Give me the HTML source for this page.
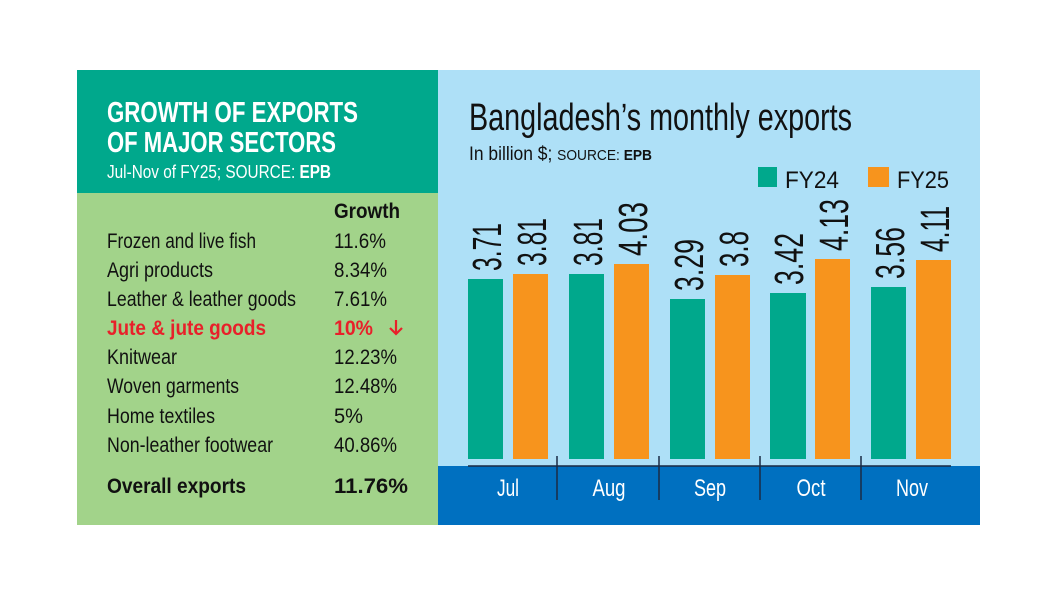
<!DOCTYPE html>
<html><head><meta charset="utf-8"><style>
html,body{margin:0;padding:0;background:#fff;}
svg{display:block;font-family:"Liberation Sans",sans-serif;}
</style></head><body>
<svg width="1058" height="596" viewBox="0 0 1058 596" xmlns="http://www.w3.org/2000/svg">
<rect width="1058" height="596" fill="#fff"/>
<rect x="77" y="70" width="361" height="123" fill="#00a88c"/>
<rect x="77" y="193" width="361" height="332" fill="#a2d38a"/>
<rect x="438" y="70" width="542" height="455" fill="#aee0f7"/>
<rect x="438" y="466" width="542" height="59" fill="#0070c0"/>

<g fill="#fff" font-weight="bold">
<text x="107" y="122" font-size="29" textLength="251" lengthAdjust="spacingAndGlyphs">GROWTH OF EXPORTS</text>
<text x="107" y="152" font-size="29" textLength="229" lengthAdjust="spacingAndGlyphs">OF MAJOR SECTORS</text>
</g>
<text x="107" y="178" font-size="18" fill="#fff" textLength="224" lengthAdjust="spacingAndGlyphs">Jul-Nov of FY25; SOURCE: <tspan font-weight="bold">EPB</tspan></text>

<g font-size="21" fill="#111">
<text x="334" y="218" font-weight="bold" textLength="66" lengthAdjust="spacingAndGlyphs">Growth</text>
<text x="107" y="248" textLength="149" lengthAdjust="spacingAndGlyphs">Frozen and live fish</text>
<text x="334" y="248" textLength="52" lengthAdjust="spacingAndGlyphs">11.6%</text>
<text x="107" y="277" textLength="106" lengthAdjust="spacingAndGlyphs">Agri products</text>
<text x="334" y="277" textLength="53" lengthAdjust="spacingAndGlyphs">8.34%</text>
<text x="107" y="306" textLength="189" lengthAdjust="spacingAndGlyphs">Leather &amp; leather goods</text>
<text x="334" y="306" textLength="53" lengthAdjust="spacingAndGlyphs">7.61%</text>
<text x="107" y="335" fill="#e8202a" font-weight="bold" textLength="159" lengthAdjust="spacingAndGlyphs">Jute &amp; jute goods</text>
<text x="334" y="335" fill="#e8202a" font-weight="bold" textLength="39" lengthAdjust="spacingAndGlyphs">10%</text>
<text x="107" y="364" textLength="70" lengthAdjust="spacingAndGlyphs">Knitwear</text>
<text x="334" y="364" textLength="63" lengthAdjust="spacingAndGlyphs">12.23%</text>
<text x="107" y="393" textLength="132" lengthAdjust="spacingAndGlyphs">Woven garments</text>
<text x="334" y="393" textLength="63" lengthAdjust="spacingAndGlyphs">12.48%</text>
<text x="107" y="423" textLength="108" lengthAdjust="spacingAndGlyphs">Home textiles</text>
<text x="334" y="423" textLength="29" lengthAdjust="spacingAndGlyphs">5%</text>
<text x="107" y="452" textLength="166" lengthAdjust="spacingAndGlyphs">Non-leather footwear</text>
<text x="334" y="452" textLength="63" lengthAdjust="spacingAndGlyphs">40.86%</text>
<text x="107" y="493" font-weight="bold" textLength="139" lengthAdjust="spacingAndGlyphs">Overall exports</text>
<text x="334" y="493" font-weight="bold" textLength="74" lengthAdjust="spacingAndGlyphs">11.76%</text>
</g>
<g stroke="#e8202a" stroke-width="2.2" fill="none">
<line x1="396" y1="320" x2="396" y2="334"/>
<polyline points="390,328 396,334 402,328"/>
</g>

<text x="469" y="130" font-size="38" fill="#111" textLength="383" lengthAdjust="spacingAndGlyphs">Bangladesh’s monthly exports</text>
<text x="469" y="160" font-size="19" fill="#111" textLength="183" lengthAdjust="spacingAndGlyphs">In billion $; <tspan font-size="15">SOURCE: </tspan><tspan font-size="15" font-weight="bold">EPB</tspan></text>

<rect x="758" y="167" width="19" height="20" fill="#00a88c"/>
<text x="785" y="188" font-size="24" fill="#111" textLength="54" lengthAdjust="spacingAndGlyphs">FY24</text>
<rect x="868" y="167" width="21" height="20" fill="#f7941d"/>
<text x="897" y="188" font-size="24" fill="#111" textLength="52" lengthAdjust="spacingAndGlyphs">FY25</text>

<g>
<rect x="468" y="279" width="35" height="180" fill="#00a88c"/>
<rect x="513" y="274" width="35" height="185" fill="#f7941d"/>
<rect x="569" y="274" width="35" height="185" fill="#00a88c"/>
<rect x="614" y="264" width="35" height="195" fill="#f7941d"/>
<rect x="670" y="299" width="35" height="160" fill="#00a88c"/>
<rect x="715" y="275" width="35" height="184" fill="#f7941d"/>
<rect x="770" y="293" width="36" height="166" fill="#00a88c"/>
<rect x="815" y="259" width="35" height="200" fill="#f7941d"/>
<rect x="871" y="287" width="35" height="172" fill="#00a88c"/>
<rect x="916" y="260" width="35" height="199" fill="#f7941d"/>
</g>

<g font-size="41" fill="#111">
<text transform="translate(501,271) rotate(-90)" textLength="48" lengthAdjust="spacingAndGlyphs">3.71</text>
<text transform="translate(546,266) rotate(-90)" textLength="48" lengthAdjust="spacingAndGlyphs">3.81</text>
<text transform="translate(602,266) rotate(-90)" textLength="48" lengthAdjust="spacingAndGlyphs">3.81</text>
<text transform="translate(647,256) rotate(-90)" textLength="54" lengthAdjust="spacingAndGlyphs">4.03</text>
<text transform="translate(703,291) rotate(-90)" textLength="52" lengthAdjust="spacingAndGlyphs">3.29</text>
<text transform="translate(748,267) rotate(-90)" textLength="36" lengthAdjust="spacingAndGlyphs">3.8</text>
<text transform="translate(803,285) rotate(-90)" textLength="52" lengthAdjust="spacingAndGlyphs">3.42</text>
<text transform="translate(848,251) rotate(-90)" textLength="52" lengthAdjust="spacingAndGlyphs">4.13</text>
<text transform="translate(904,279) rotate(-90)" textLength="52" lengthAdjust="spacingAndGlyphs">3.56</text>
<text transform="translate(949,252) rotate(-90)" textLength="46" lengthAdjust="spacingAndGlyphs">4.11</text>
</g>

<g stroke="#1a2a44" stroke-width="1.5">
<line x1="468" y1="466" x2="951" y2="466"/>
<line x1="557" y1="456" x2="557" y2="500"/>
<line x1="659" y1="456" x2="659" y2="500"/>
<line x1="760" y1="456" x2="760" y2="500"/>
<line x1="861" y1="456" x2="861" y2="500"/>
</g>

<g font-size="24" fill="#fff" text-anchor="middle">
<text x="508" y="496" textLength="22" lengthAdjust="spacingAndGlyphs">Jul</text>
<text x="609" y="496" textLength="33" lengthAdjust="spacingAndGlyphs">Aug</text>
<text x="710" y="496" textLength="32" lengthAdjust="spacingAndGlyphs">Sep</text>
<text x="811" y="496" textLength="29" lengthAdjust="spacingAndGlyphs">Oct</text>
<text x="912" y="496" textLength="32" lengthAdjust="spacingAndGlyphs">Nov</text>
</g>
</svg>
</body></html>
